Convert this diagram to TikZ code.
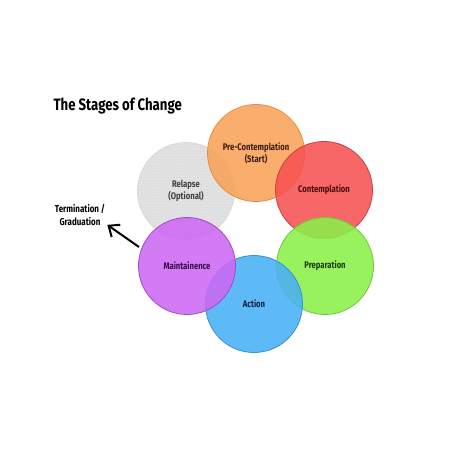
\documentclass[tikz,border=0pt]{standalone}
\usepackage{fontspec}
\setmainfont{Fira Sans}[FakeStretch=0.8]
\usetikzlibrary{patterns,arrows.meta}

\definecolor{orangeS}{HTML}{F9A35A}
\definecolor{redS}{HTML}{F75252}
\definecolor{greenS}{HTML}{8AF048}
\definecolor{blueS}{HTML}{48B0F6}
\definecolor{purpleS}{HTML}{CD68F4}
\definecolor{grayS}{HTML}{DEDEDE}

\begin{document}
\begin{tikzpicture}[x=1pt,y=-1pt]

        \useasboundingbox (0,0) rectangle (454,454);

        \node[anchor=west, font=\bfseries\fontsize{16.5}{18}\selectfont] (title) at (50,106) {The Stages of Change};

        \begin{scope}[every node/.style={circle, draw, line width=.8pt, minimum size=97pt,
            fill opacity=.88, text opacity=1, align=center,
            font=\bfseries\fontsize{9.6}{12}\selectfont}]
          \node[fill=grayS, draw=gray!30, text=black!75,
            postaction={pattern=dots, pattern color=gray!45}] (relapse) at (186,191) {Relapse\\(Optional)};
          \node[fill=orangeS, draw={rgb,255:red,228;green,140;blue,70}, text={rgb,255:red,60;green,28;blue,20}] (pre) at (256,153) {Pre-Contemplation\\(Start)};
          \node[fill=redS, draw={rgb,255:red,210;green,60;blue,60}, text={rgb,255:red,75;green,10;blue,16}] (contemp) at (324,190) {Contemplation};
          \node[fill=greenS, draw={rgb,255:red,110;green,200;blue,60}, text={rgb,255:red,26;green,58;blue,16}] (prep) at (325,266) {Preparation};
          \node[fill=blueS, draw={rgb,255:red,50;green,145;blue,215}, text={rgb,255:red,10;green,32;blue,64}] (action) at (254,304) {Action};
          \node[fill=purpleS, draw={rgb,255:red,160;green,75;blue,200}, text={rgb,255:red,60;green,10;blue,74}] (maint) at (187,266) {Maintainence};
        \end{scope}

        \node[align=center, inner sep=1pt, font=\bfseries\fontsize{10}{13}\selectfont] (term) at (80,215) {Termination /\\Graduation};

        \coordinate (tail) at (139,247);
        \draw[line width=2pt, -{Straight Barb[length=9pt,width=15pt]}] (tail) -- ([shift={(1,-2)}]term.south east);

      \end{tikzpicture}
\end{document}
